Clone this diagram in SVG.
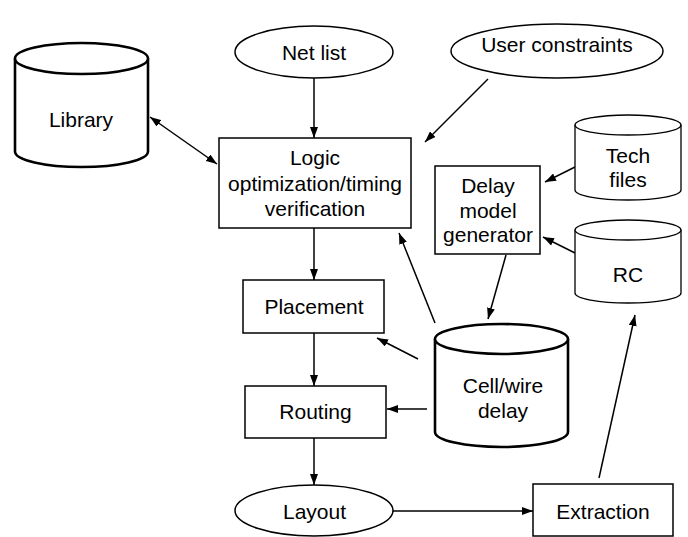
<svg xmlns="http://www.w3.org/2000/svg" width="688" height="537" viewBox="0 0 688 537">
<style>
text{font-family:"Liberation Sans",Arial,sans-serif;font-size:21px;fill:#000;text-anchor:middle}
.n{fill:#fff;stroke:#000;stroke-width:1.5}
.thick{fill:#fff;stroke:#000;stroke-width:2.6}
.thin{fill:#fff;stroke:#000;stroke-width:1.3}
.c line{stroke:#000;stroke-width:1.5;marker-end:url(#ah)}
</style>
<defs>
<marker id="ah" markerUnits="userSpaceOnUse" markerWidth="11" markerHeight="8" refX="11" refY="4" orient="auto-start-reverse">
<path d="M0,0 L11,4 L0,8 z" fill="#000"/>
</marker>
</defs>
<rect width="688" height="537" fill="#fff"/>
<g class="c">
<line x1="314" y1="78" x2="314" y2="138"/>
<line x1="488" y1="79" x2="425" y2="142"/>
<line x1="150" y1="117" x2="217" y2="164" marker-start="url(#ah)"/>
<line x1="314" y1="228" x2="314" y2="280"/>
<line x1="314" y1="333" x2="314" y2="386"/>
<line x1="314" y1="438" x2="314" y2="485"/>
<line x1="393" y1="511" x2="533" y2="511"/>
<line x1="599" y1="478" x2="635" y2="315"/>
<line x1="575" y1="167" x2="545" y2="182"/>
<line x1="575" y1="253" x2="543" y2="237"/>
<line x1="506" y1="255" x2="488" y2="319"/>
<line x1="435" y1="323" x2="399" y2="233"/>
<line x1="418" y1="359" x2="377" y2="338"/>
<line x1="427" y1="409" x2="387" y2="409"/>
</g>
<g id="library">
<path class="thick" d="M15,58.5 L15,151.5 A66.5,15.5 0 0 0 148,151.5 L148,58.5"/>
<ellipse class="thick" cx="81.5" cy="58.5" rx="66.5" ry="15.5"/>
<text x="81" y="127">Library</text>
</g>
<g id="netlist">
<ellipse class="n" cx="314" cy="52" rx="79" ry="26"/>
<text x="314" y="60">Net list</text>
</g>
<g id="userconstraints">
<ellipse class="n" cx="557" cy="51" rx="106" ry="27"/>
<text x="557" y="52">User constraints</text>
</g>
<g id="logic">
<rect class="n" x="219" y="138" width="192" height="90"/>
<text x="315" y="165">Logic</text>
<text x="315" y="191">optimization/timing</text>
<text x="315" y="216">verification</text>
</g>
<g id="delaymodel">
<rect class="n" x="435" y="166" width="105" height="88"/>
<text x="488" y="193">Delay</text>
<text x="488" y="218">model</text>
<text x="488" y="242">generator</text>
</g>
<g id="techfiles">
<path class="thin" d="M575,125 L575,190 A53,10 0 0 0 681,190 L681,125"/>
<ellipse class="thin" cx="628" cy="125" rx="53" ry="10"/>
<text x="628" y="163">Tech</text>
<text x="628" y="187">files</text>
</g>
<g id="rc">
<path class="thin" d="M575,230 L575,293 A53,10 0 0 0 681,293 L681,230"/>
<ellipse class="thin" cx="628" cy="230" rx="53" ry="10"/>
<text x="628" y="282">RC</text>
</g>
<g id="placement">
<rect class="n" x="243" y="280" width="141" height="53"/>
<text x="314" y="314">Placement</text>
</g>
<g id="routing">
<rect class="n" x="245" y="386" width="141" height="52"/>
<text x="315.5" y="419">Routing</text>
</g>
<g id="cellwire">
<path class="thick" d="M435,339 L435,432 A66.5,15 0 0 0 568,432 L568,339"/>
<ellipse class="thick" cx="501.5" cy="339" rx="66.5" ry="15"/>
<text x="503" y="393">Cell/wire</text>
<text x="503" y="418">delay</text>
</g>
<g id="layout">
<ellipse class="n" cx="314" cy="510.5" rx="79" ry="25.5"/>
<text x="314.5" y="519">Layout</text>
</g>
<g id="extraction">
<rect class="n" x="533" y="484" width="140" height="52"/>
<text x="603" y="519">Extraction</text>
</g>
</svg>
